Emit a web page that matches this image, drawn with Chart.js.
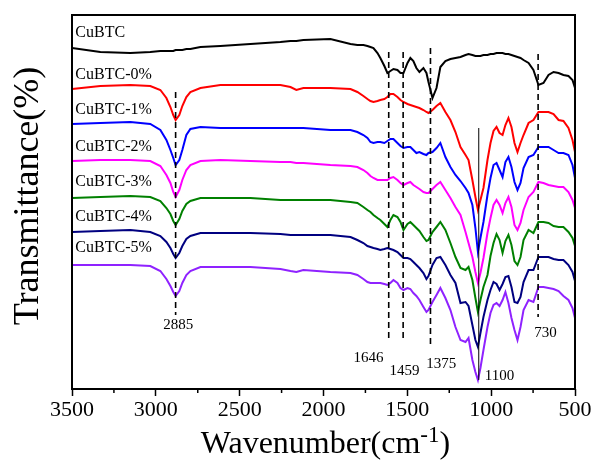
<!DOCTYPE html>
<html><head><meta charset="utf-8">
<script src="https://cdn.jsdelivr.net/npm/chart.js@4/dist/chart.umd.min.js"></script>
<style>html,body{margin:0;padding:0;background:#fff}canvas{display:block}</style>
</head><body>
<canvas id="c" width="596" height="464"></canvas>
<script>
// Wavenumber grid (cm-1)
const wavenumber = [3500,3331,3152,3033,2973,2937,2913,2896,2882,2860,
2842,2818,2794,2734,2615,2436,2257,2197,2162,2120,
1959,1839,1798,1762,1738,1720,1702,1678,1661,1637,
1619,1601,1583,1559,1541,1523,1499,1482,1464,1446,
1428,1404,1386,1374,1350,1326,1303,1273,1243,1213,
1183,1153,1135,1112,1094,1079,1064,1046,1022,1004,
986,968,950,932,915,897,879,861,843,825,
807,777,748,718,688,658,628,598,569,539,
515,500];

const seriesNames = ['CuBTC','CuBTC-0%','CuBTC-1%','CuBTC-2%','CuBTC-3%','CuBTC-4%','CuBTC-5%'];

// Transmittance (offset, arbitrary units)
const tCuBTC = [341,337,336,337,338,338,338,338,339,339,
339,340,340,342,343,345,347,348,348,349,
350,345,344,344,343,342,341,336,331,323,
316,318,320,319,316,316,326,331,328,321,
317,321,316,307,291,301,322,328,330,331,
332,334,335,334,333,333,333,334,334,335,
335,336,336,336,335,335,334,333,332,331,
329,326,319,304,306,314,317,316,314,313,
309,301];
const tCuBTC0 = [300,303,304,303,299,291,282,274,269,274,
283,292,297,301,304,304,304,302,299,301,
301,300,297,293,290,288,287,288,289,290,
292,295,295,292,289,287,285,284,283,282,
281,279,277,276,279,283,286,277,269,257,
242,234,229,209,192,179,189,201,229,246,
258,262,256,254,264,271,262,246,237,246,
254,266,269,277,277,277,275,269,268,261,
249,237];
const tCuBTC1 = [265,266,267,265,259,249,239,231,224,229,
239,254,260,262,261,261,261,261,261,261,
259,259,257,254,251,247,246,247,247,246,
248,250,250,246,243,241,242,242,239,236,
237,235,234,236,237,241,246,232,222,214,
208,201,196,184,161,137,151,167,194,211,
224,226,219,212,227,232,222,207,199,206,
221,232,234,242,242,242,239,236,236,234,
224,211];
const tCuBTC2 = [228,229,229,228,223,214,206,197,192,199,
209,219,224,228,229,228,227,227,226,226,
224,223,222,219,216,213,211,209,209,209,
209,211,212,209,206,204,206,207,204,202,
200,197,196,196,200,204,207,199,191,182,
174,157,146,132,117,106,116,131,156,171,
184,189,184,176,186,192,182,164,159,166,
179,192,197,207,206,204,203,202,202,197,
189,181];
const tCuBTC3 = [191,192,193,192,188,181,175,168,164,170,
178,185,188,191,191,191,189,189,189,189,
189,187,186,182,179,177,174,171,169,165,
162,169,174,172,167,159,165,167,164,161,
158,152,148,149,157,162,167,159,146,132,
121,119,122,109,91,77,89,102,114,133,
146,155,149,136,148,154,144,128,124,132,
149,159,156,167,167,166,163,162,162,157,
151,143];
const tCuBTC4 = [157,158,159,157,153,147,141,135,131,136,
143,150,153,156,156,156,155,154,154,154,
154,152,149,146,143,142,141,140,139,140,
141,140,139,137,134,131,131,130,127,124,
121,116,110,113,124,131,132,124,114,106,
86,87,83,64,49,42,56,72,89,99,
107,105,99,105,112,113,102,87,86,92,
107,119,119,132,132,132,130,129,129,124,
117,108];
const tCuBTC5 = [124,124,124,123,118,110,103,97,93,98,
106,114,118,122,122,122,120,118,117,119,
117,116,114,110,107,106,106,106,106,105,
104,106,109,106,101,99,101,100,96,93,
89,82,77,79,87,94,101,91,79,62,
49,47,51,29,17,9,21,39,62,76,
84,86,83,89,97,86,71,59,49,62,
79,89,87,102,102,101,100,98,93,89,
81,71];

const seriesValues = [tCuBTC,tCuBTC0,tCuBTC1,tCuBTC2,tCuBTC3,tCuBTC4,tCuBTC5];
const seriesColors = ['#000000','#ff0000','#0000ff','#ff00ff','#008000','#000080','#8f22ff'];

// Curve name labels (left side)
const nameWn = 3480;
const nameT = [356,314,279,242,207,172,141];

// Dashed marker lines
const markWn = [2882,1611,1525,1362,720];
const markTop = [297,337,337,341,335];
const markBottom = [74,49,47,44,72];
// Solid marker line
const solidWn = 1074, solidTop = 261, solidBottom = 9;
// Marker labels
const markLabels = ['2885','1646','1459','1375','1100','730'];
const markLabelWn = [2866,1732,1517,1297,950,676];
const markLabelT = [64,31,18,25,13,56];

const majorTicks = [3500,3000,2500,2000,1500,1000,500];

const SERIF = "'Liberation Serif','Times New Roman',serif";

const decor = {
  id:'decor',
  afterDatasetsDraw(chart){
    const c = chart.ctx, xs = chart.scales.x, ys = chart.scales.y;
    c.save();
    c.strokeStyle = '#000'; c.lineWidth = 1.6; c.setLineDash([6,4]);
    markWn.forEach((w,i)=>{
      const x = xs.getPixelForValue(w);
      c.beginPath(); c.moveTo(x, ys.getPixelForValue(markTop[i])); c.lineTo(x, ys.getPixelForValue(markBottom[i])); c.stroke();
    });
    c.setLineDash([]); c.lineWidth = 1;
    const sx = xs.getPixelForValue(solidWn);
    c.beginPath(); c.moveTo(sx, ys.getPixelForValue(solidTop)); c.lineTo(sx, ys.getPixelForValue(solidBottom)); c.stroke();
    c.fillStyle = '#000';
    c.font = '15px ' + SERIF; c.textAlign = 'center'; c.textBaseline = 'middle';
    markLabels.forEach((t,i)=>{ c.fillText(t, xs.getPixelForValue(markLabelWn[i]), ys.getPixelForValue(markLabelT[i])); });
    c.font = '16px ' + SERIF;
    c.textAlign = 'left';
    seriesNames.forEach((t,i)=>{ c.fillText(t, xs.getPixelForValue(nameWn), ys.getPixelForValue(nameT[i])); });
    c.restore();
  },
  afterDraw(chart){
    const c = chart.ctx, xs = chart.scales.x, a = chart.chartArea;
    c.save();
    c.strokeStyle = '#000'; c.lineWidth = 2;
    c.strokeRect(a.left, a.top, a.right - a.left, a.bottom - a.top);
    c.lineWidth = 1.5;
    for (let v = 750; v < 3500; v += 500) {
      const x = xs.getPixelForValue(v);
      c.beginPath(); c.moveTo(x, a.bottom); c.lineTo(x, a.bottom + 4); c.stroke();
    }
    c.fillStyle = '#000';
    c.textBaseline = 'alphabetic';
    c.save();
    c.translate(38, (a.top + a.bottom) / 2 - 6);
    c.rotate(-Math.PI / 2);
    c.font = '36px ' + SERIF; c.textAlign = 'center';
    c.fillText('Transmittance(%)', 0, 0);
    c.restore();
    const big = '32px ' + SERIF, small = '23px ' + SERIF;
    c.font = big; const w1 = c.measureText('Wavenumber(cm').width, w3 = c.measureText(')').width;
    c.font = small; const w2 = c.measureText('-1').width;
    const total = w1 + w2 + w3;
    let x0 = (a.left + a.right) / 2 + 2 - total / 2;
    const base = 453;
    c.textAlign = 'left';
    c.font = big; c.fillText('Wavenumber(cm', x0, base);
    c.font = small; c.fillText('-1', x0 + w1, base - 11);
    c.font = big; c.fillText(')', x0 + w1 + w2, base);
    c.restore();
  }
};

new Chart(document.getElementById('c'), {
  type: 'line',
  data: {
    datasets: seriesNames.map((n,i)=>({
      label: n,
      data: wavenumber.map((w,j)=>({x:w, y:seriesValues[i][j]})),
      borderColor: seriesColors[i],
      borderWidth: 2,
      pointRadius: 0,
      tension: 0,
      fill: false,
      order: seriesNames.length - i
    }))
  },
  options: {
    responsive: false,
    animation: false,
    layout: {padding: {left: 0, right: 21, top: 15, bottom: 0}},
    plugins: {legend: {display: false}, tooltip: {enabled: false}},
    scales: {
      x: {
        type: 'linear', reverse: true, min: 500, max: 3500,
        afterBuildTicks(s){ s.ticks = majorTicks.map(v=>({value:v})); },
        afterFit(s){ s.height = 75; },
        ticks: {
          color: '#000', font: {family: SERIF, size: 22}, padding: 1,
          maxRotation: 0, autoSkip: false,
          callback: v => String(v)
        },
        grid: {drawOnChartArea: false, drawTicks: true, tickLength: 7, tickColor: '#000', tickWidth: 1.5},
        border: {display: false}
      },
      y: {
        min: 0, max: 374,
        afterFit(s){ s.width = 72; },
        ticks: {display: false},
        grid: {display: false},
        border: {display: false}
      }
    }
  },
  plugins: [decor]
});
</script>
</body></html>
